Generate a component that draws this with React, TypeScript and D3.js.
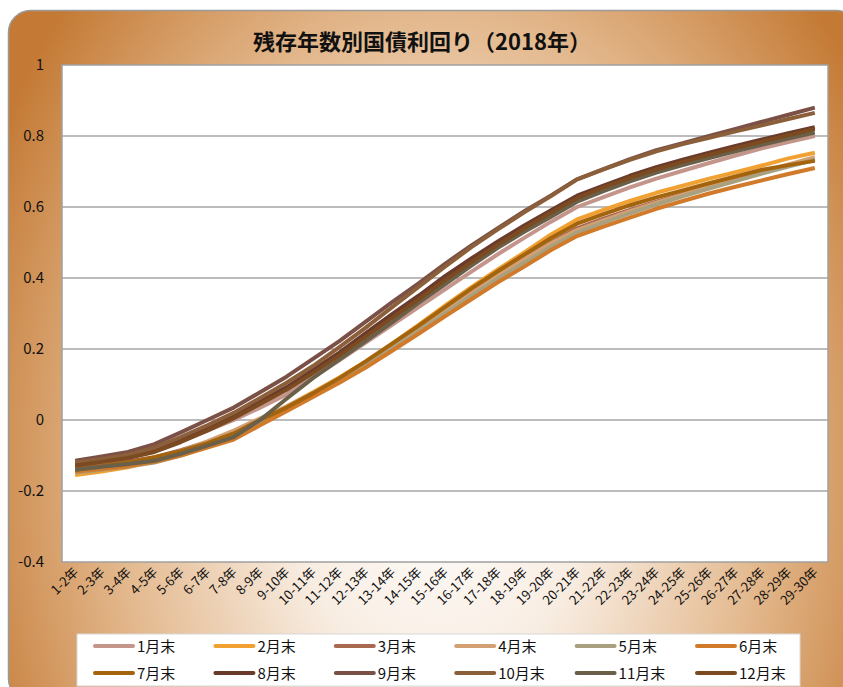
import React from "react";
import * as d3 from "d3";

const categories = [
  "1-2年","2-3年","3-4年","4-5年","5-6年","6-7年","7-8年","8-9年","9-10年","10-11年",
  "11-12年","12-13年","13-14年","14-15年","15-16年","16-17年","17-18年","18-19年","19-20年","20-21年",
  "21-22年","22-23年","23-24年","24-25年","25-26年","26-27年","27-28年","28-29年","29-30年",
];

const seriesNames = ["1月末","2月末","3月末","4月末","5月末","6月末","7月末","8月末","9月末","10月末","11月末","12月末"];
const seriesColors = ["#c3958b","#f0a131","#a8694f","#d3a073","#a9a07f","#d07a2a","#a4640e","#6a3a2b","#7b5047","#8b5f3a","#6a6049","#7b4a20"];

const jan = [-0.13,-0.12,-0.108,-0.085,-0.058,-0.03,0.0,0.035,0.072,0.12,0.168,0.218,0.268,0.318,0.368,0.418,0.467,0.513,0.558,0.6,0.628,0.655,0.68,0.702,0.724,0.745,0.765,0.783,0.80];
const feb = [-0.155,-0.145,-0.133,-0.115,-0.095,-0.07,-0.04,0.0,0.038,0.078,0.12,0.165,0.215,0.268,0.322,0.374,0.424,0.472,0.522,0.565,0.592,0.617,0.64,0.66,0.68,0.698,0.717,0.737,0.753];
const mar = [-0.135,-0.127,-0.117,-0.105,-0.085,-0.062,-0.035,0.0,0.035,0.074,0.115,0.16,0.21,0.26,0.312,0.362,0.41,0.455,0.5,0.54,0.567,0.592,0.615,0.637,0.658,0.678,0.698,0.717,0.735];
const apr = [-0.145,-0.135,-0.125,-0.11,-0.088,-0.06,-0.03,0.005,0.038,0.076,0.116,0.162,0.21,0.258,0.31,0.36,0.408,0.453,0.497,0.535,0.562,0.588,0.612,0.635,0.657,0.678,0.698,0.72,0.74];
const may = [-0.148,-0.14,-0.131,-0.12,-0.1,-0.075,-0.045,-0.01,0.03,0.07,0.11,0.155,0.202,0.25,0.3,0.35,0.398,0.443,0.488,0.528,0.556,0.582,0.607,0.63,0.652,0.673,0.694,0.714,0.733];
const jun = [-0.145,-0.138,-0.13,-0.118,-0.1,-0.078,-0.055,-0.015,0.025,0.065,0.105,0.148,0.195,0.243,0.292,0.34,0.388,0.432,0.478,0.518,0.545,0.57,0.595,0.617,0.638,0.657,0.675,0.693,0.71];
const jul = [-0.14,-0.13,-0.12,-0.105,-0.088,-0.065,-0.038,0.0,0.035,0.075,0.118,0.165,0.215,0.265,0.318,0.37,0.419,0.466,0.512,0.553,0.58,0.605,0.627,0.647,0.667,0.686,0.705,0.718,0.73];
const aug = [-0.125,-0.115,-0.103,-0.085,-0.055,-0.022,0.012,0.052,0.092,0.14,0.19,0.245,0.298,0.35,0.405,0.455,0.503,0.548,0.59,0.632,0.66,0.688,0.712,0.733,0.753,0.772,0.79,0.808,0.825];
const sep = [-0.115,-0.103,-0.09,-0.068,-0.035,0.0,0.035,0.078,0.122,0.172,0.222,0.277,0.332,0.385,0.44,0.492,0.54,0.588,0.632,0.678,0.707,0.735,0.76,0.78,0.8,0.82,0.84,0.86,0.88];
const oct = [-0.12,-0.11,-0.098,-0.078,-0.048,-0.015,0.02,0.062,0.105,0.152,0.205,0.26,0.318,0.375,0.432,0.487,0.537,0.585,0.63,0.678,0.706,0.733,0.757,0.777,0.795,0.813,0.83,0.848,0.865];
const nov = [-0.14,-0.132,-0.124,-0.115,-0.095,-0.072,-0.048,0.0,0.06,0.118,0.17,0.222,0.275,0.33,0.382,0.435,0.485,0.53,0.572,0.615,0.645,0.672,0.697,0.718,0.738,0.757,0.775,0.793,0.81];
const dec = [-0.128,-0.118,-0.107,-0.09,-0.062,-0.03,0.005,0.045,0.085,0.132,0.182,0.235,0.288,0.34,0.394,0.445,0.494,0.54,0.583,0.625,0.655,0.682,0.706,0.727,0.747,0.766,0.784,0.802,0.82];

const seriesValues = [jan, feb, mar, apr, may, jun, jul, aug, sep, oct, nov, dec];
const yTicks = [-0.4, -0.2, 0, 0.2, 0.4, 0.6, 0.8, 1];
const yTickLabels = ["-0.4", "-0.2", "0", "0.2", "0.4", "0.6", "0.8", "1"];
const title = "残存年数別国債利回り（2018年）";

const W = 843;
const H = 687;
const plot = { left: 62, right: 828, top: 65, bottom: 562 };
const font = "'Noto Sans CJK JP', 'Noto Sans', sans-serif";

export default function App() {
  const x = d3.scaleBand<string>().domain(categories).range([plot.left, plot.right]).padding(0);
  const y = d3.scaleLinear().domain([-0.4, 1]).range([plot.bottom, plot.top]);
  const cx = (c: string) => (x(c) as number) + x.bandwidth() / 2;
  const line = d3
    .line<number>()
    .x((_, i) => cx(categories[i]))
    .y((v) => y(v));

  const legendX0 = 95;
  const legendDx = 120.4;
  const legendY0 = 646;
  const legendDy = 27;

  return (
    <svg width={W} height={H} style={{ position: "absolute", left: 0, top: 0, display: "block" }}>
      <defs>
        <radialGradient
          id="bg"
          gradientUnits="userSpaceOnUse"
          cx={440}
          cy={470}
          r={500}
          gradientTransform="translate(440 470) scale(1 1.4) translate(-440 -470)"
        >
          <stop offset="0" stopColor="#ffffff" />
          <stop offset="0.3" stopColor="#f8ede2" />
          <stop offset="0.65" stopColor="#e3b88d" />
          <stop offset="1" stopColor="#c47a35" />
        </radialGradient>
      </defs>
      <rect x={0} y={0} width={W} height={H} fill="#ffffff" />
      <rect x={8.5} y={10.5} width={850} height={690} rx={22} ry={22} fill="url(#bg)" stroke="#9a9a9a" strokeWidth={1.5} />

      <text x={422} y={50} textAnchor="middle" fontFamily={font} fontSize={22} fontWeight="bold" fill="#111">
        {title}
      </text>

      <rect x={plot.left} y={plot.top} width={plot.right - plot.left} height={plot.bottom - plot.top} fill="#ffffff" />

      {yTicks.map((t, i) => (
        <g key={t}>
          {t > -0.4 && t < 1 && (
            <line x1={plot.left} x2={plot.right} y1={y(t)} y2={y(t)} stroke="#a6a6a6" strokeWidth={1.5} />
          )}
          <text x={44} y={y(t) + 5} textAnchor="end" fontFamily={font} fontSize={15} fill="#111">
            {yTickLabels[i]}
          </text>
        </g>
      ))}

      <rect
        x={plot.left}
        y={plot.top}
        width={plot.right - plot.left}
        height={plot.bottom - plot.top}
        fill="none"
        stroke="#a0a0a0"
        strokeWidth={1.5}
      />

      {seriesValues.map((vals, s) => (
        <path key={s} d={line(vals) || ""} fill="none" stroke={seriesColors[s]} strokeWidth={4} strokeLinejoin="round" />
      ))}

      {categories.map((c) => (
        <text
          key={c}
          transform={`translate(${cx(c) + 4},${plot.bottom + 11}) rotate(-45)`}
          textAnchor="end"
          fontFamily={font}
          fontSize={13}
          fill="#111"
        >
          {c}
        </text>
      ))}

      <rect x={77} y={634} width={723} height={52} fill="#ffffff" stroke="#d8d8d8" strokeWidth={1} />
      {seriesNames.map((n, i) => {
        const col = i % 6;
        const row = Math.floor(i / 6);
        const lx = legendX0 + col * legendDx;
        const ly = legendY0 + row * legendDy;
        return (
          <g key={n}>
            <line x1={lx} x2={lx + 38} y1={ly} y2={ly} stroke={seriesColors[i]} strokeWidth={4} strokeLinecap="round" />
            <text x={lx + 42} y={ly + 5.5} fontFamily={font} fontSize={15} fill="#111">
              {n}
            </text>
          </g>
        );
      })}
    </svg>
  );
}
